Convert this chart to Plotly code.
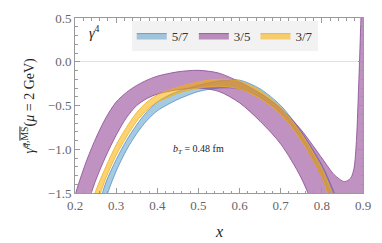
import plotly.graph_objects as go

# ---- data ----
blue_x = [0.25, 0.275, 0.30, 0.325, 0.35, 0.375, 0.40, 0.425, 0.45, 0.50, 0.55, 0.60, 0.65, 0.70, 0.75, 0.80, 0.825, 0.85]
blue_upper = [-1.78, -1.38, -1.12, -0.90, -0.72, -0.57, -0.46, -0.39, -0.34, -0.27, -0.22, -0.21, -0.31, -0.50, -0.80, -1.18, -1.44, -1.75]
blue_lower = [-1.95, -1.56, -1.25, -1.01, -0.82, -0.67, -0.56, -0.49, -0.43, -0.34, -0.30, -0.31, -0.41, -0.59, -0.89, -1.32, -1.62, -1.95]

purple_x = [0.19, 0.20, 0.225, 0.25, 0.275, 0.30, 0.325, 0.35, 0.375, 0.40, 0.45, 0.50, 0.55, 0.60, 0.65,
            0.70, 0.75, 0.80, 0.83, 0.855, 0.87, 0.878, 0.884, 0.89, 0.895, 0.90]
purple_upper = [-1.75, -1.53, -1.17, -0.88, -0.64, -0.46, -0.35, -0.27, -0.21, -0.165, -0.115, -0.098, -0.13, -0.23, -0.36,
                -0.53, -0.78, -1.10, -1.29, -1.37, -1.33, -1.22, -0.90, -0.20, 0.50, 1.20]
purple_lower = [-2.40, -2.15, -1.72, -1.36, -1.08, -0.84, -0.64, -0.50, -0.42, -0.37, -0.32, -0.30, -0.34, -0.47, -0.68,
                -0.94, -1.33, -1.90, -2.30, -2.50, -2.50, -2.50, -2.50, -2.50, -2.50, -2.50]

yellow_x = [0.24, 0.25, 0.275, 0.30, 0.325, 0.35, 0.375, 0.40, 0.425, 0.45, 0.50, 0.55, 0.60, 0.65, 0.70, 0.75, 0.80, 0.825, 0.85]
yellow_upper = [-1.62, -1.48, -1.20, -0.95, -0.75, -0.58, -0.46, -0.38, -0.33, -0.29, -0.23, -0.20, -0.22, -0.33, -0.52, -0.82, -1.22, -1.50, -1.85]
yellow_lower = [-1.90, -1.68, -1.33, -1.07, -0.86, -0.68, -0.55, -0.46, -0.41, -0.36, -0.30, -0.28, -0.31, -0.42, -0.60, -0.90, -1.32, -1.65, -2.00]

labels = ["5/7", "3/5", "3/7"]
x_ticks = [0.2, 0.3, 0.4, 0.5, 0.6, 0.7, 0.8, 0.9]
y_ticks = [0.5, 0.0, -0.5, -1.0, -1.5]

SERIF = "Liberation Serif"

fig = go.Figure()

def band(xs, up, lo, name, fill, line):
    fig.add_trace(go.Scatter(
        x=list(xs) + list(xs)[::-1],
        y=list(up) + list(lo)[::-1],
        fill="toself", fillcolor=fill,
        line=dict(color=line, width=0.8, shape="spline", smoothing=0.8),
        mode="lines", name=name, hoverinfo="skip",
    ))

band(blue_x, blue_upper, blue_lower, labels[0], "rgba(80,150,200,0.5)", "rgb(85,145,195)")
band(purple_x, purple_upper, purple_lower, labels[1], "rgba(140,60,145,0.56)", "rgb(135,75,145)")
band(yellow_x, yellow_upper, yellow_lower, labels[2], "rgba(250,175,0,0.55)", "rgb(240,175,30)")

axis_common = dict(
    showline=True, linecolor="#9a9a9a", linewidth=1, mirror="ticks",
    ticks="inside", ticklen=5, tickcolor="#9a9a9a", tickwidth=1,
    showgrid=False,
    tickfont=dict(family=SERIF, size=13, color="#666666"),
)

fig.update_xaxes(range=[0.2, 0.9], tickvals=x_ticks, tickformat=".1f",
                 minor=dict(dtick=0.02, ticks="inside", ticklen=2.5, tickcolor="#9a9a9a", showgrid=False),
                 zeroline=False, **axis_common)
fig.update_yaxes(range=[-1.5, 0.5], tickvals=y_ticks, tickformat=".1f",
                 minor=dict(dtick=0.1, ticks="inside", ticklen=2.5, tickcolor="#9a9a9a", showgrid=False),
                 zeroline=True, zerolinecolor="#e2e2e2", zerolinewidth=1, **axis_common)

fig.add_annotation(text="<i>γ</i><sup>4</sup>", xref="paper", yref="paper", x=0.068, y=0.918,
                   xanchor="center", yanchor="middle", showarrow=False,
                   font=dict(family=SERIF, size=14, color="#222"))
fig.add_annotation(text="<i>b</i><sub><i>T</i></sub> = 0.48 fm", x=0.5, y=-1.0,
                   xanchor="center", yanchor="middle", showarrow=False,
                   font=dict(family=SERIF, size=10, color="#222"))
fig.add_annotation(text="<i>x</i>", xref="paper", yref="paper", x=0.5, y=0, yshift=-38,
                   xanchor="center", yanchor="middle", showarrow=False,
                   font=dict(family=SERIF, size=16, color="#222"))
fig.add_annotation(text="<i>γ̂</i><sup><i>q</i>,<span style='text-decoration:overline'>MS</span></sup>(<i>μ</i> = 2 GeV)",
                   xref="paper", yref="paper", x=0, y=0.5, xshift=-46, textangle=-90,
                   xanchor="center", yanchor="middle", showarrow=False,
                   font=dict(family=SERIF, size=14, color="#222"))

fig.update_layout(
    width=382, height=243,
    margin=dict(l=75, r=13, t=11, b=50),
    paper_bgcolor="white", plot_bgcolor="white",
    showlegend=True,
    legend=dict(orientation="h", x=0.197, y=0.985, xanchor="left", yanchor="top",
                bgcolor="#f2f2f2", font=dict(family=SERIF, size=13, color="#333"),
                itemwidth=30, traceorder="normal"),
)

fig.write_html("out.html", config={"displayModeBar": False},
               post_script="document.body.style.margin='0';")
